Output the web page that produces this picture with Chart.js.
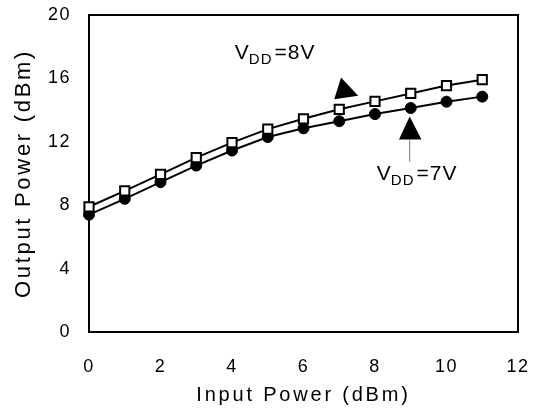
<!DOCTYPE html>
<html>
<head>
<meta charset="utf-8">
<script src="https://cdn.jsdelivr.net/npm/chart.js@4/dist/chart.umd.min.js"></script>
<style>
  html, body { margin: 0; padding: 0; background: #fff; }
  #wrap { width: 537px; height: 409px; }
</style>
</head>
<body>
<div id="wrap"><canvas id="c" width="537" height="409"></canvas></div>
<script>
// ---- data ----
const inputPower = [0, 1, 2, 3, 4, 5, 6, 7, 8, 9, 10, 11];
const vdd8 = [7.9, 8.9, 9.95, 11.0, 11.95, 12.8, 13.45, 14.05, 14.55, 15.05, 15.55, 15.92];
const vdd7 = [7.4, 8.4, 9.45, 10.5, 11.45, 12.3, 12.85, 13.3, 13.75, 14.13, 14.53, 14.85];
const xTicks = [0, 2, 4, 6, 8, 10, 12];
const yTicks = [0, 4, 8, 12, 16, 20];
const seriesNames = ['VDD=8V', 'VDD=7V'];

// annotation anchors in data units
const label8 = { x: 4.08, y: 17.2, main: 'V', sub: 'DD', rest: '=8V' };
const label7 = { x: 8.05, y: 9.6, main: 'V', sub: 'DD', rest: '=7V' };
const arrow8 = [[7.05, 16.05], [6.86, 14.68], [7.53, 14.9]];
const arrow7 = [[8.97, 13.6], [8.67, 12.15], [9.3, 12.15]];
const arrow7Stem = [[8.97, 12.1], [8.97, 10.75]];

const FONT = '"Liberation Sans", Arial, Helvetica, sans-serif';

const framePlugin = {
  id: 'frame',
  beforeDraw(chart) {
    chart.ctx.letterSpacing = '1.5px';
    const sp = { x: '2.8px', y: '2.7px' };
    Object.values(chart.scales).forEach(s => {
      if (!s._wrappedTitle) {
        const orig = s.drawTitle;
        s.drawTitle = function () {
          const c = this.ctx; const prev = c.letterSpacing;
          c.letterSpacing = sp[this.id] || '0px';
          orig.apply(this, arguments);
          c.letterSpacing = prev;
        };
        s._wrappedTitle = true;
      }
    });
  },
  beforeDatasetsDraw(chart) {
    const { ctx, chartArea: a } = chart;
    ctx.save();
    ctx.strokeStyle = '#000';
    ctx.lineWidth = 2;
    ctx.strokeRect(a.left, a.top, a.right - a.left, a.bottom - a.top);
    ctx.restore();
  },
  afterDatasetsDraw(chart) {
    const { ctx } = chart;
    const xs = chart.scales.x, ys = chart.scales.y;
    const P = (p) => [xs.getPixelForValue(p[0]), ys.getPixelForValue(p[1])];
    ctx.save();
    ctx.fillStyle = '#000';
    [arrow8, arrow7].forEach(tri => {
      ctx.beginPath();
      tri.forEach((p, i) => { const q = P(p); i ? ctx.lineTo(q[0], q[1]) : ctx.moveTo(q[0], q[1]); });
      ctx.closePath();
      ctx.fill();
    });
    ctx.strokeStyle = '#777';
    ctx.lineWidth = 1;
    ctx.beginPath();
    let q = P(arrow7Stem[0]); ctx.moveTo(q[0], q[1]);
    q = P(arrow7Stem[1]); ctx.lineTo(q[0], q[1]);
    ctx.stroke();

    ctx.letterSpacing = '1px';
    ctx.textBaseline = 'alphabetic';
    ctx.textAlign = 'left';
    [label8, label7].forEach(l => {
      let [x, y] = P([l.x, l.y]);
      ctx.font = '21px ' + FONT;
      ctx.fillText(l.main, x, y);
      x += ctx.measureText(l.main).width - 1;
      ctx.font = '15px ' + FONT;
      ctx.fillText(l.sub, x, y + 5);
      x += ctx.measureText(l.sub).width + 1;
      ctx.font = '21px ' + FONT;
      ctx.fillText(l.rest, x + 1, y);
    });
    ctx.restore();
  }
};

const noPad = s => { s.paddingTop = 0; s.paddingBottom = 0; s.paddingLeft = 0; s.paddingRight = 0; };

new Chart(document.getElementById('c'), {
  type: 'line',
  data: {
    labels: inputPower,
    datasets: [
      {
        label: seriesNames[0],
        data: inputPower.map((x, i) => ({ x, y: vdd8[i] })),
        borderColor: '#000', borderWidth: 2,
        pointStyle: 'rect', pointRadius: 6.5, pointBorderWidth: 2,
        pointBackgroundColor: '#fff', pointBorderColor: '#000',
        tension: 0, clip: false
      },
      {
        label: seriesNames[1],
        data: inputPower.map((x, i) => ({ x, y: vdd7[i] })),
        borderColor: '#000', borderWidth: 2,
        pointStyle: 'circle', pointRadius: 5.5, pointBorderWidth: 1,
        pointBackgroundColor: '#000', pointBorderColor: '#000',
        tension: 0, clip: false
      }
    ]
  },
  options: {
    responsive: false,
    animation: false,
    events: [],
    layout: { padding: { left: 0, right: 19, top: 15, bottom: 0 } },
    plugins: { legend: { display: false }, tooltip: { enabled: false } },
    scales: {
      x: {
        type: 'linear', min: 0, max: 12,
        afterBuildTicks: s => { s.ticks = xTicks.map(v => ({ value: v })); },
        afterFit: s => { s.height = 77; noPad(s); },
        grid: { display: false, drawTicks: false },
        border: { display: false },
        ticks: { padding: 24, color: '#000', font: { family: FONT, size: 18 } },
        title: { display: true, text: 'Input Power (dBm)', color: '#000',
                 font: { family: FONT, size: 20 }, padding: { top: 0, bottom: 2 } }
      },
      y: {
        type: 'linear', min: 0, max: 20,
        afterBuildTicks: s => { s.ticks = yTicks.map(v => ({ value: v })); },
        afterFit: s => { s.width = 89; noPad(s); },
        grid: { display: false, drawTicks: false },
        border: { display: false },
        ticks: { padding: 18, color: '#000', font: { family: FONT, size: 18 } },
        title: { display: true, text: 'Output Power (dBm)', color: '#000',
                 font: { family: FONT, size: 22 }, padding: { top: 11, bottom: 0 } }
      }
    }
  },
  plugins: [framePlugin]
});
</script>
</body>
</html>
